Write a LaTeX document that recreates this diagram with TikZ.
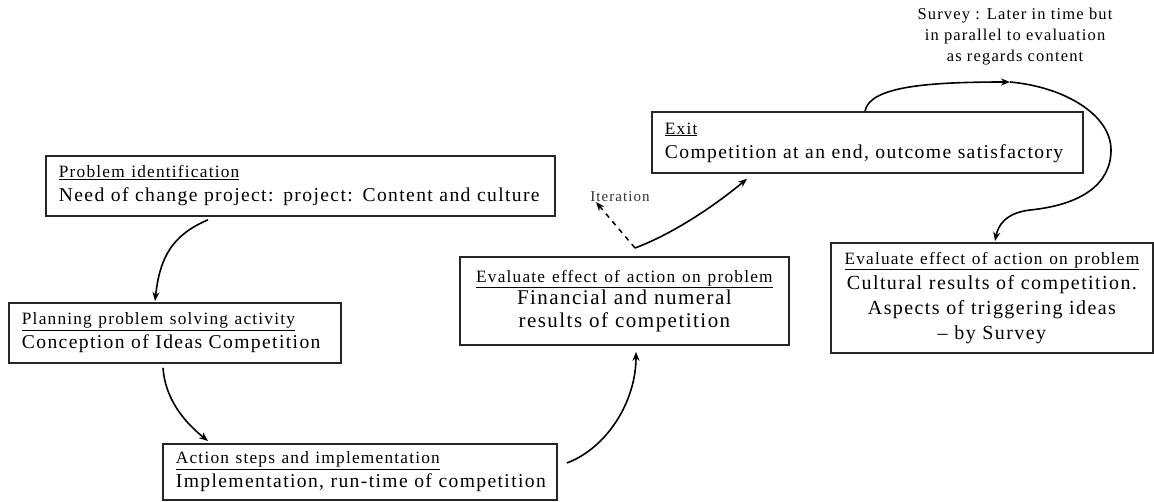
\documentclass[tikz,border=0pt]{standalone}
\usepackage{fontspec}
\setmainfont{Liberation Serif}[LetterSpace=7]
\usetikzlibrary{arrows.meta}
\newcommand\boxttl[1]{{\fontsize{17.3}{24}\selectfont\underline{#1}}}
\begin{document}
\begin{tikzpicture}[x=1pt,y=-1pt,
  box/.style={draw=black!85, line width=1.8pt, anchor=north west, inner ysep=0pt,
    font=\fontsize{19.6}{24}\selectfont},
  lbox/.style={box, align=left, inner xsep=13pt},
  cbox/.style={box, align=center, inner xsep=6pt},
  conn/.style={line width=1.6pt, -{Stealth[length=9pt,width=7pt]}},
  dconn/.style={line width=1.5pt, dashed, dash pattern=on 5pt off 5pt, -{Stealth[length=9pt,width=7pt]}},
  lab/.style={font=\fontsize{16.5}{21}\selectfont, align=center, inner sep=0pt}]
\useasboundingbox (0,0) rectangle (1154,501);

\node[lbox, minimum width=509pt, minimum height=60pt, text width=483pt] (p1) at (45,155)
  {\boxttl{Problem identification}\\Need of change project: project: Content and culture};
\node[lbox, minimum width=332pt, minimum height=60pt, text width=306pt] (p2) at (8,302)
  {\boxttl{Planning problem solving activity}\\Conception of Ideas Competition};
\node[lbox, minimum width=394pt, minimum height=56pt, text width=368pt] (p3) at (162,443)
  {\boxttl{Action steps and implementation}\\Implementation, run-time of competition};
\node[cbox, minimum width=329pt, minimum height=88pt, text width=317pt,
  font=\fontsize{21}{22.5}\selectfont] (p4) at (459,256)
  {\boxttl{Evaluate effect of action on problem}\\Financial and numeral\\results of competition};
\node[lbox, minimum width=431pt, minimum height=61pt, text width=405pt] (p5) at (651,111)
  {\boxttl{Exit}\\Competition at an end, outcome satisfactory};
\node[cbox, minimum width=322pt, minimum height=110pt, text width=310pt,
  font=\fontsize{20}{25}\selectfont] (p6) at (830,242)
  {\boxttl{Evaluate effect of action on problem}\\Cultural results of competition.\\Aspects of triggering ideas\\– by Survey};

\node[lab] (survey) at (1015,37) {Survey : Later in time but\\in parallel to evaluation\\as regards content};
\node[lab, font=\fontsize{15}{18}\selectfont, text=black!80] (itlab) at (620,197) {Iteration};

\coordinate (itend) at (596,202);
\coordinate (m5) at (1010,82);

\draw[conn] ([xshift=163pt,yshift=-3pt]p1.south west) .. controls +(-35,15) and +(5,-45) .. ([xshift=147pt,yshift=1pt]p2.north west);
\draw[conn] ([xshift=155pt,yshift=-4pt]p2.south west) .. controls +(2,30) and +(-25,-20) .. ([xshift=46pt,yshift=2pt]p3.north west);
\draw[conn] ([xshift=9pt,yshift=-20pt]p3.north east) .. controls +(40,-15) and +(0,50) .. ([xshift=177pt,yshift=-6pt]p4.south west);
\draw[conn] ([xshift=176pt,yshift=8pt]p4.north west) .. controls +(40,-15) and +(-30,25) .. ([xshift=96pt,yshift=-5pt]p5.south west);
\draw[dconn] ([xshift=176pt,yshift=8pt]p4.north west) -- (itend);
\draw[conn] ([xshift=214pt]p5.north west) .. controls +(5,-25) and +(-80,0) .. (m5);
\draw[conn] (m5) .. controls +(55,5) and +(0,-35) .. (1111,150) .. controls +(0,35) and +(50,-5) .. (1030,210) .. controls +(-25,3) and +(3,-15) .. ([xshift=165pt,yshift=1pt]p6.north west);
\end{tikzpicture}
\end{document}
